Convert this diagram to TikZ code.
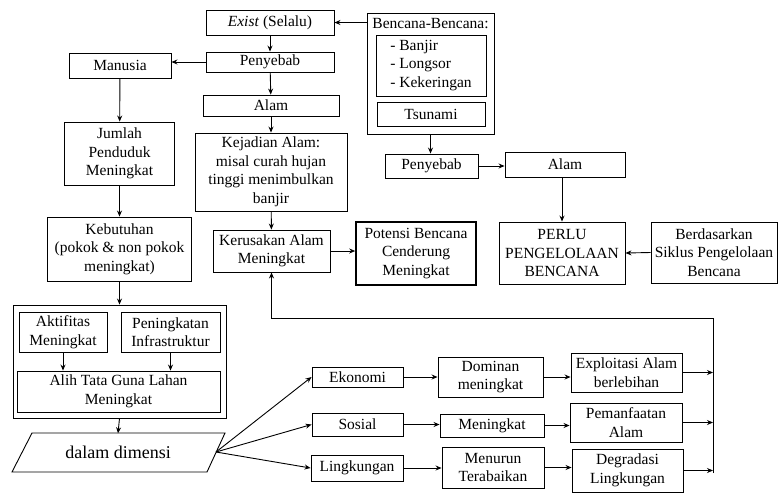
\documentclass[tikz,border=0pt]{standalone}
\usepackage{fontspec}
\setmainfont{Liberation Serif}
\usetikzlibrary{arrows.meta}

\tikzset{
	box/.style={draw, line width=0.9pt, inner sep=1.5pt, align=center},
	wh/.style 2 args={minimum width=#1pt, minimum height=#2pt},
	arr/.style={line width=0.9pt, -{Stealth[length=6pt,width=5pt]}},
	line/.style={line width=0.9pt}
}

\begin{document}
\begin{tikzpicture}[x=1pt, y=-1pt, every node/.style={font=\fontsize{15.5}{18.5}\selectfont}]

			\useasboundingbox (0,0) rectangle (778,493);

			% Middle column
			\node[box, wh={128}{25}] (exist) at (270,22.5) {\textit{Exist} (Selalu)};
			\node[box, wh={128}{20}] (penA) at (270,62) {Penyebab};
			\node[box, wh={136}{21}] (alamA) at (271,105.5) {Alam};
			\node[box, wh={152}{78}] (kejadian) at (271,172) {Kejadian Alam:\\misal curah hujan\\tinggi menimbulkan\\banjir};
			\node[box, wh={117}{42}] (kerusakan) at (271.5,251) {Kerusakan Alam\\Meningkat};
			\node[box, line width=1.6pt, wh={120}{63}] (potensi) at (416,253.5) {Potensi Bencana\\Cenderung\\Meningkat};

			% Left column
			\node[box, wh={102}{25}] (manusia) at (120,65.5) {Manusia};
			\node[box, wh={110}{63}] (jumlah) at (119.5,153.5) {Jumlah\\Penduduk\\Meningkat};
			\node[box, wh={144}{64}] (kebutuhan) at (119.5,249) {Kebutuhan\\(pokok \& non pokok\\meningkat)};

			\node[box, wh={213}{113}] (lahan) at (119.5,361.5) {};
			\node[box, wh={88}{40}] (aktifitas) at (63,332) {Aktifitas\\Meningkat};
			\node[box, wh={99}{40}] (infra) at (170.5,332) {Peningkatan\\Infrastruktur};
			\node[box, wh={203}{41}] (alih) at (118.5,391.5) {Alih Tata Guna Lahan\\Meningkat};

			\draw[line] (32,433) -- (225,433) -- (207,472) -- (12,472) -- cycle;
			\node[wh={150}{38}, font=\fontsize{18}{20}\selectfont] (dimensi) at (118,452.5) {dalam dimensi};
			\coordinate (dimR) at (216,452);

			% Right column
			\node[box, wh={127}{121}] (bencana) at (430.5,73.5) {};
			\node (bencanaT) at (430.5,24) {Bencana-Bencana:};
			\node[box, align=left, wh={110}{61}] (daftar) at (431,65.5) {- Banjir\\- Longsor\\- Kekeringan};
			\node[box, wh={108}{24}] (tsunami) at (431,114) {Tsunami};
			\node[box, wh={93}{24}] (penB) at (431.5,166) {Penyebab};
			\node[box, wh={120}{25}] (alamB) at (565,164.5) {Alam};
			\node[box, wh={126}{62}] (perlu) at (562,253) {PERLU\\PENGELOLAAN\\BENCANA};
			\node[box, wh={126}{61}] (siklus) at (714,252.5) {Berdasarkan\\Siklus Pengelolaan\\Bencana};

			% Dimensions
			\node[box, wh={91}{20}] (ekonomi) at (357.5,377) {Ekonomi};
			\node[box, wh={91}{23}] (sosial) at (357.5,424.5) {Sosial};
			\node[box, wh={92}{26}] (lingkungan) at (357,468) {Lingkungan};
			\node[box, wh={105}{40}] (dominan) at (490.5,377) {Dominan\\meningkat};
			\node[box, wh={104}{23}] (naik) at (492,425.5) {Meningkat};
			\node[box, wh={102}{41}] (menurun) at (493,467.5) {Menurun\\Terabaikan};
			\node[box, wh={111}{39}] (eksploitasi) at (626.5,372.5) {Exploitasi Alam\\berlebihan};
			\node[box, wh={112}{39}] (manfaat) at (626,422.5) {Pemanfaatan\\Alam};
			\node[box, wh={111}{43}] (degradasi) at (627.5,470.5) {Degradasi\\Lingkungan};

			\coordinate (fbTop) at (713,318);
			\coordinate (fbBot) at (713,473);

			% Connectors
			\draw[arr] (bencana.west |- exist.east) -- (exist.east);
			\draw[arr] (exist) -- (penA);
			\draw[arr] (penA.west) -- (penA.west -| manusia.east);
			\draw[arr] (penA) -- (alamA);
			\draw[arr] (alamA) -- (kejadian);
			\draw[arr] (kejadian) -- (kerusakan);
			\draw[arr] (kerusakan.east) -- (kerusakan.east -| potensi.west);
			\draw[arr] (manusia) -- (jumlah);
			\draw[arr] (jumlah) -- (kebutuhan);
			\draw[arr] (kebutuhan) -- (lahan);
			\draw[arr] (aktifitas.south) -- (aktifitas.south |- alih.north);
			\draw[arr] (infra.south) -- (infra.south |- alih.north);
			\draw[arr] (lahan.south) -- (dimensi.north);

			\draw[arr] (bencana.south) -- (bencana.south |- penB.north);
			\draw[arr] (penB.east) -- (penB.east -| alamB.west);
			\draw[arr] (alamB.south -| perlu.north) -- (perlu.north);
			\draw[arr] (siklus.west) -- (perlu.east);

			\draw[arr] (dimR) -- (ekonomi.west);
			\draw[arr] (dimR) -- (sosial.west);
			\draw[arr] (dimR) -- (lingkungan.west);
			\draw[arr] (ekonomi) -- (dominan);
			\draw[arr] (dominan.east) -- (dominan.east -| eksploitasi.west);
			\draw[arr] (sosial.east) -- (sosial.east -| naik.west);
			\draw[arr] (naik.east) -- (naik.east -| manfaat.west);
			\draw[arr] (lingkungan.east) -- (lingkungan.east -| menurun.west);
			\draw[arr] (menurun.east) -- (menurun.east -| degradasi.west);
			\draw[arr] (eksploitasi.east) -- (eksploitasi.east -| fbTop);
			\draw[arr] (manfaat.east) -- (manfaat.east -| fbTop);
			\draw[arr] (degradasi.east) -- (degradasi.east -| fbTop);

			% Feedback
			\draw[arr] (fbBot) -- (fbTop) -| (kerusakan.south);

		\end{tikzpicture}
\end{document}
